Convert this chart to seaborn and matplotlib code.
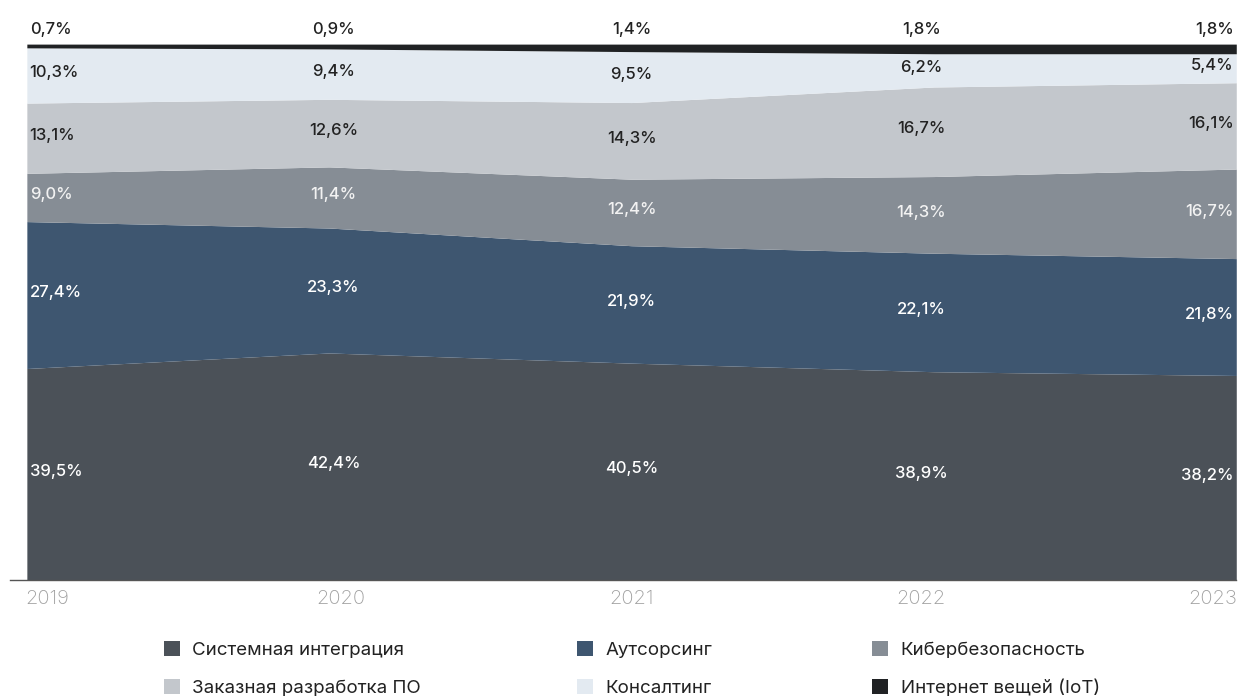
import seaborn as sns
import numpy as np
import matplotlib.pyplot as plt
from matplotlib.patches import Patch

# data
years = [2019, 2020, 2021, 2022, 2023]
series_names = ['Системная интеграция', 'Аутсорсинг', 'Кибербезопасность',
                'Заказная разработка ПО', 'Консалтинг', 'Интернет вещей (IoT)']
sys_int = [39.5, 42.4, 40.5, 38.9, 38.2]
outsourcing = [27.4, 23.3, 21.9, 22.1, 21.8]
cyber = [9.0, 11.4, 12.4, 14.3, 16.7]
custom_dev = [13.1, 12.6, 14.3, 16.7, 16.1]
consulting = [10.3, 9.4, 9.5, 6.2, 5.4]
iot = [0.7, 0.9, 1.4, 1.8, 1.8]

colors = ['#4b5158', '#3e5670', '#868d95', '#c3c7cc', '#e3eaf1', '#202224']
text_colors = ['white', 'white', '#f2f2f2', '#222222', '#222222', '#222222']

sns.set_style('white')
plt.rcParams['font.family'] = ['Inter', 'DejaVu Sans']

fig = plt.figure(figsize=(12.4, 7), dpi=100)
ax = fig.add_axes([0.008, 0.171, 0.989, 0.766])

data = np.array([sys_int, outsourcing, cyber, custom_dev, consulting, iot])
ax.stackplot(years, data, colors=colors, linewidth=0)

ax.set_xlim(2018.944, 2023)
ax.set_ylim(0, 100)
ax.set_yticks([])
ax.set_xticks(years)
ax.set_xticklabels([])
ax.tick_params(axis='x', length=0)
sns.despine(ax=ax, left=True, top=True, right=True)
ax.spines['bottom'].set_color('#555555')
ax.spines['bottom'].set_linewidth(1)

# year labels (slightly shifted like the original layout)
aligns = ['left', 'center', 'center', 'center', 'right']
tick_shift = [-1, 8, 0, -9, 1]
for yr, ha, dx in zip(years, aligns, tick_shift):
    ax.annotate(str(yr), (yr, 0), xytext=(dx, -7), textcoords='offset points',
                ha=ha, va='top', fontsize=14.5, fontweight='light', color='#a0a0a0')

# value labels
cum = np.cumsum(data, axis=0)
xoffs = [2, 3, 0, -9, -2]
for i in range(data.shape[0]):
    for j, yr in enumerate(years):
        val = data[i, j]
        txt = f'{val:.1f}%'.replace('.', ',')
        if i == data.shape[0] - 1:
            ax.annotate(txt, (yr, 100), xytext=(xoffs[j], 5), textcoords='offset points',
                        ha=aligns[j], va='bottom', fontsize=12, fontweight='medium',
                        color='#222222')
        else:
            mid = cum[i, j] - val / 2
            ax.annotate(txt, (yr, mid), xytext=(xoffs[j], 2), textcoords='offset points',
                        ha=aligns[j], va='center', fontsize=12, fontweight='medium',
                        color=text_colors[i])

# legend: three columns placed separately
handles = [Patch(facecolor=c, edgecolor='none', label=n) for c, n in zip(colors, series_names)]
col_x = [0.125, 0.458, 0.696]
for k, x in enumerate(col_x):
    fig.legend([handles[k], handles[k + 3]], [series_names[k], series_names[k + 3]],
               loc='upper left', bbox_to_anchor=(x, 0.097), frameon=False, borderpad=0,
               fontsize=13.5, handlelength=0.85, handleheight=0.85, handletextpad=0.65,
               labelspacing=1.05, labelcolor='#222222')

fig.savefig('out.png', dpi=100)
